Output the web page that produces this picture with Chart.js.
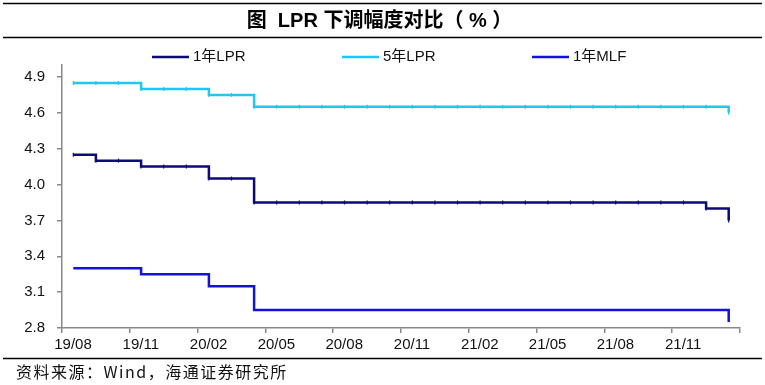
<!DOCTYPE html>
<html>
<head>
<meta charset="utf-8">
<script src="https://cdn.jsdelivr.net/npm/chart.js@4/dist/chart.umd.min.js"></script>
<style>
  body { margin: 0; background: #fff; }
  #wrap { width: 765px; height: 385px; }
</style>
</head>
<body>
<div id="wrap"><canvas id="myChart" width="765" height="385"></canvas></div>
<script>
// monthly observations, 2019-08 .. 2022-01
var months = ['2019-08','2019-09','2019-10','2019-11','2019-12',
  '2020-01','2020-02','2020-03','2020-04','2020-05','2020-06','2020-07','2020-08','2020-09','2020-10','2020-11','2020-12',
  '2021-01','2021-02','2021-03','2021-04','2021-05','2021-06','2021-07','2021-08','2021-09','2021-10','2021-11','2021-12',
  '2022-01'];

var lpr1y = [4.25,4.20,4.20,4.15,4.15,4.15,4.05,4.05,3.85,3.85,3.85,3.85,3.85,3.85,3.85,3.85,3.85,
  3.85,3.85,3.85,3.85,3.85,3.85,3.85,3.85,3.85,3.85,3.85,3.80,3.70];
var lpr5y = [4.85,4.85,4.85,4.80,4.80,4.80,4.75,4.75,4.65,4.65,4.65,4.65,4.65,4.65,4.65,4.65,4.65,
  4.65,4.65,4.65,4.65,4.65,4.65,4.65,4.65,4.65,4.65,4.65,4.65,4.60];
var mlf1y = [3.30,3.30,3.30,3.25,3.25,3.25,3.15,3.15,2.95,2.95,2.95,2.95,2.95,2.95,2.95,2.95,2.95,
  2.95,2.95,2.95,2.95,2.95,2.95,2.95,2.95,2.95,2.95,2.95,2.95,2.85];

var seriesNames = ['1年LPR', '5年LPR', '1年MLF'];
var xTickLabels = ['19/08','19/11','20/02','20/05','20/08','20/11','21/02','21/05','21/08','21/11'];
var yTicks = [2.8, 3.1, 3.4, 3.7, 4.0, 4.3, 4.6, 4.9];

var titleText = '图  LPR 下调幅度对比（ % ）';
var sourceText = '资料来源：Wind，海通证券研究所';

var LATIN = '"Liberation Sans", Arial, "Noto Sans CJK SC", sans-serif';

// each month's value sits in the middle of its month
function toPoints(arr){
    return arr.map(function(v, i){ return { x: i + 0.5, y: v }; });
}

// title, rules, legend and source line
var decor = {
    id: 'decor',
    afterDraw: function(chart){
        var ctx = chart.ctx;
        var w = chart.width;
        ctx.save();
        ctx.strokeStyle = '#000';
        ctx.lineWidth = 1.5;
        [3.5, 37.5, 358.5].forEach(function(y){
            ctx.beginPath();
            ctx.moveTo(3, y);
            ctx.lineTo(w - 3, y);
            ctx.stroke();
        });

        ctx.fillStyle = '#000';
        ctx.font = 'bold 20px ' + LATIN;
        ctx.textAlign = 'center';
        ctx.textBaseline = 'middle';
        ctx.fillText(titleText, w / 2 - 3, 21);

        var legendX = [152, 342, 532];
        ctx.textAlign = 'left';
        ctx.font = '15px ' + LATIN;
        chart.data.datasets.forEach(function(ds, i){
            var x = legendX[i], y = 57;
            ctx.strokeStyle = ds.borderColor;
            ctx.lineWidth = 2.5;
            ctx.beginPath();
            ctx.moveTo(x, y);
            ctx.lineTo(x + 37, y);
            ctx.stroke();
            ctx.fillStyle = '#111';
            ctx.fillText(ds.label, x + 41, y);
        });

        ctx.fillStyle = '#111';
        ctx.font = '16px "Noto Sans CJK SC", sans-serif';
        ctx.letterSpacing = '1.5px';
        ctx.fillText(sourceText, 16, 372);
        ctx.restore();
    }
};

function initChart(){
    var axisColor = '#888';
    new Chart(document.getElementById('myChart'), {
        type: 'line',
        data: {
            datasets: [{
                label: seriesNames[0],
                data: toPoints(lpr1y),
                borderColor: '#0B0B72',
                backgroundColor: '#0B0B72',
                borderWidth: 2.5,
                stepped: true,
                pointStyle: 'line',
                rotation: 90,
                pointRadius: 2,
                pointBorderWidth: 1.2
            }, {
                label: seriesNames[1],
                data: toPoints(lpr5y),
                borderColor: '#1FC8F2',
                backgroundColor: '#1FC8F2',
                borderWidth: 2.5,
                stepped: true,
                pointStyle: 'line',
                rotation: 90,
                pointRadius: 2,
                pointBorderWidth: 1.2
            }, {
                label: seriesNames[2],
                data: toPoints(mlf1y),
                borderColor: '#1212DC',
                backgroundColor: '#1212DC',
                borderWidth: 2.5,
                stepped: true,
                pointRadius: 0
            }]
        },
        options: {
            responsive: false,
            animation: false,
            layout: { padding: { top: 65, right: 25, bottom: 27, left: 0 } },
            plugins: {
                legend: { display: false },
                title: { display: false },
                tooltip: { enabled: false }
            },
            scales: {
                x: {
                    type: 'linear',
                    min: 0,
                    max: months.length,
                    afterBuildTicks: function(scale){
                        var t = [];
                        for (var i = 0; i <= months.length; i += 3) t.push({ value: i });
                        scale.ticks = t;
                    },
                    afterFit: function(scale){ scale.height = 30; },
                    grid: { drawOnChartArea: false, color: axisColor, tickLength: 5, lineWidth: 1.5 },
                    border: { color: axisColor, width: 1.5 },
                    ticks: {
                        autoSkip: false,
                        maxRotation: 0,
                        padding: 3,
                        labelOffset: 11,
                        color: '#111',
                        font: { family: LATIN, size: 15 },
                        callback: function(v){
                            var lab = xTickLabels[v / 3];
                            return lab === undefined ? '' : lab;
                        }
                    }
                },
                y: {
                    min: 2.8,
                    max: 5.0,
                    afterBuildTicks: function(scale){
                        scale.ticks = yTicks.map(function(v){ return { value: v }; });
                    },
                    afterFit: function(scale){ scale.width = 62; },
                    grid: { drawOnChartArea: false, color: axisColor, tickLength: 5, lineWidth: 1.5 },
                    border: { color: axisColor, width: 1.5 },
                    ticks: {
                        padding: 12,
                        color: '#111',
                        font: { family: LATIN, size: 15 },
                        callback: function(v){ return v.toFixed(1); }
                    }
                }
            }
        },
        plugins: [decor]
    });
}

initChart();
</script>
</body>
</html>
